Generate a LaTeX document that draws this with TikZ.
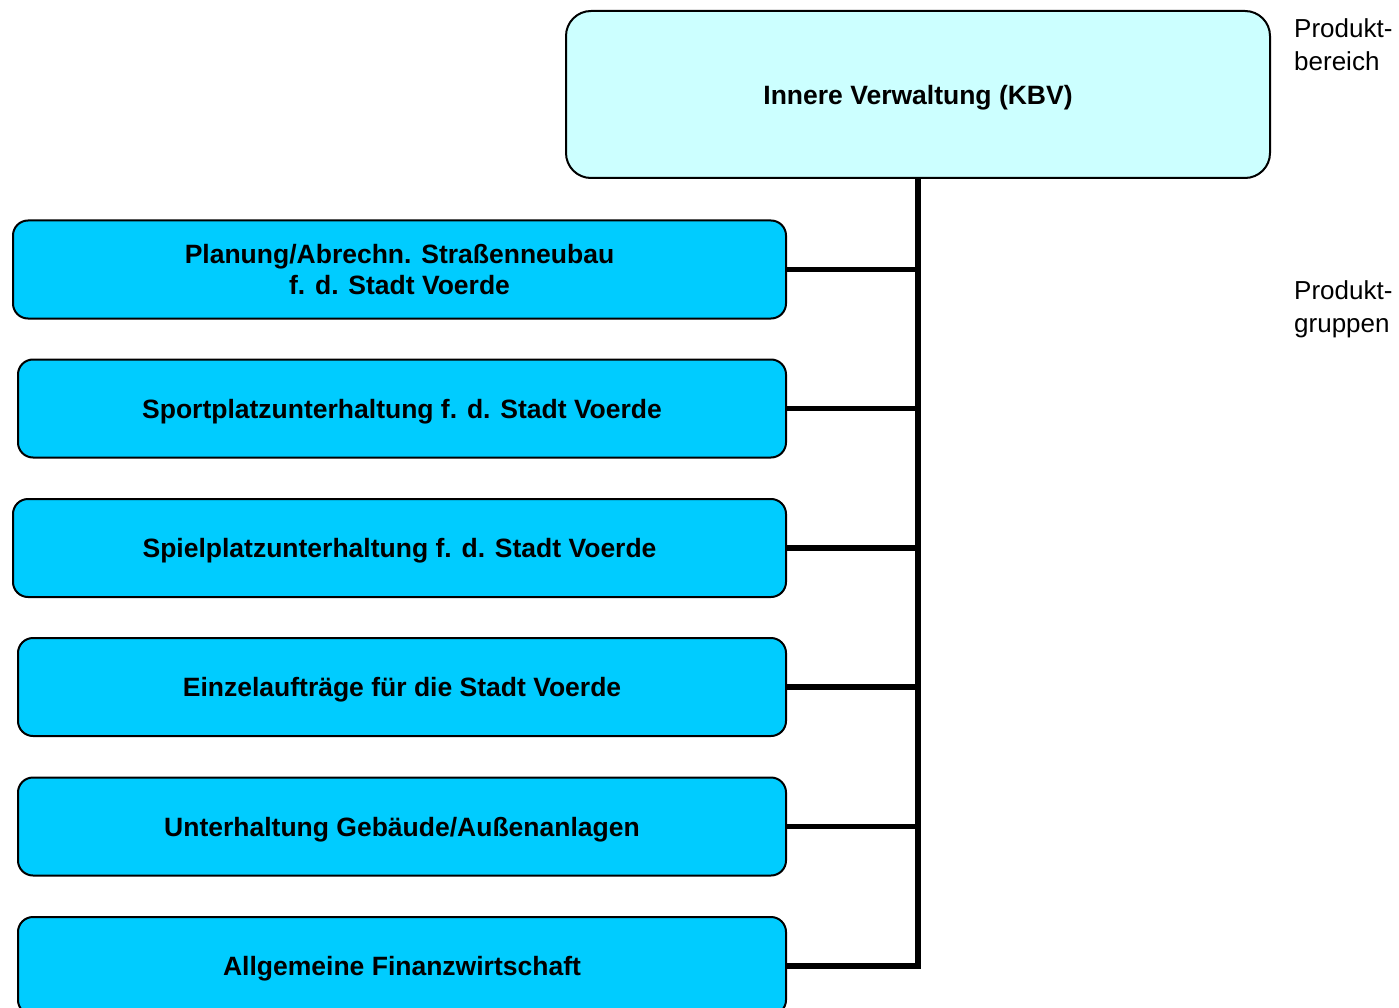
\documentclass[tikz,border=0pt]{standalone}
\usepackage{fontspec}
\setmainfont{Liberation Sans}
\definecolor{hellcyan}{HTML}{CCFFFF}
\definecolor{gruppeblau}{HTML}{00CCFF}
\tikzset{
  bereich/.style={draw, line width=2pt, fill=hellcyan, rounded corners=25pt, minimum width=704pt, minimum height=167pt, inner sep=0pt, text depth=0pt, font=\fontsize{26.5}{31}\selectfont\bfseries},
  gruppe/.style={draw, line width=2pt, fill=gruppeblau, rounded corners=15pt, minimum height=98pt, inner sep=0pt, align=center, font=\fontsize{26.5}{31}\selectfont\bfseries},
  einzeilig/.style={text depth=0pt},
  verb/.style={line width=5.5pt},
  hinweis/.style={anchor=north west, inner sep=0pt, align=left, font=\fontsize{26}{33}\selectfont}
}
\begin{document}
\begin{tikzpicture}[x=1pt,y=-1pt]
        \useasboundingbox (0,0) rectangle (1399,1008);
        \node[bereich] (kbv) at (918,94.5) {Innere Verwaltung (KBV)};
        \node[gruppe, minimum width=773pt] (g1) at (399.5,269.5) {Planung/Abrechn. Straßenneubau\\f. d. Stadt Voerde};
        \node[gruppe, einzeilig, minimum width=768pt] (g2) at (402,408.5) {Sportplatzunterhaltung f. d. Stadt Voerde};
        \node[gruppe, einzeilig, minimum width=773pt] (g3) at (399.5,548) {Spielplatzunterhaltung f. d. Stadt Voerde};
        \node[gruppe, einzeilig, minimum width=768pt] (g4) at (402,687) {Einzelaufträge für die Stadt Voerde};
        \node[gruppe, einzeilig, minimum width=768pt] (g5) at (402,826.5) {Unterhaltung Gebäude/Außenanlagen};
        \node[gruppe, einzeilig, minimum width=768pt] (g6) at (402,966) {Allgemeine Finanzwirtschaft};
        % Verbindungen
        \draw[verb] (kbv.south) |- (g6.east);
        \foreach \g in {g1,g2,g3,g4,g5}
          \draw[verb] (\g.east) -- (\g.east -| kbv.south);
        \node[hinweis] (pb) at (1294,18) {Produkt-\\bereich};
        \node[hinweis] (pg) at (1294,280) {Produkt-\\gruppen};
\end{tikzpicture}
\end{document}
